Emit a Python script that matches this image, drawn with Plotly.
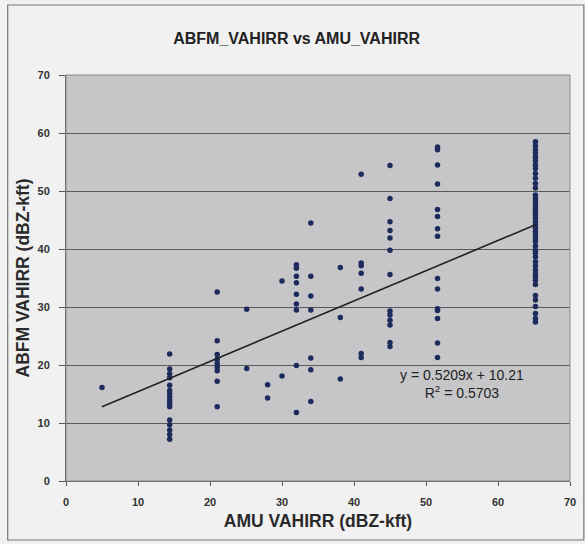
import plotly.graph_objects as go

# ---- data ----
col_x = [5.0, 14.4, 21.0, 25.1, 28.0, 30.0, 32.0, 34.0, 38.1, 41.0, 45.0, 51.6, 65.2]

col_05 = [16.1]
col_14 = [21.9, 19.3, 18.5, 17.8, 16.5, 15.6, 15.1, 14.5, 13.9, 13.4, 12.8, 10.5, 9.7, 8.8, 8.0, 7.2]
col_21 = [32.6, 24.2, 21.8, 21.0, 20.3, 19.6, 19.0, 17.2, 12.8]
col_25 = [29.6, 19.4]
col_28 = [16.6, 14.3]
col_30 = [34.5, 18.1]
col_32 = [37.3, 36.7, 35.3, 34.2, 32.2, 30.5, 29.5, 19.9, 11.8]
col_34 = [44.5, 35.3, 31.9, 29.5, 21.2, 19.2, 13.7]
col_38 = [36.8, 28.2, 17.6]
col_41 = [52.9, 37.6, 37.1, 35.8, 33.1, 22.0, 21.3]
col_45 = [54.4, 48.7, 44.7, 43.2, 41.9, 39.8, 35.6, 29.3, 28.6, 27.7, 26.9, 23.9, 23.2]
col_52 = [57.6, 57.1, 54.5, 51.2, 46.8, 45.6, 43.5, 42.2, 34.9, 33.1, 29.7, 29.4, 28.0, 23.8, 21.3]
col_65 = [58.5, 57.8, 57.1, 56.5, 55.8, 55.2, 54.5, 53.9, 53.0, 52.2, 51.3, 50.5, 49.3,
          48.7, 48.2, 47.6, 47.0, 46.5, 45.9, 45.3, 44.7, 44.2, 43.6, 43.0, 42.4, 41.8,
          41.3, 40.5, 39.8, 39.3, 38.6, 37.8, 37.1, 36.4, 35.7, 35.2, 34.6, 33.9, 32.0,
          31.2, 30.1, 28.9, 28.0, 27.4]

slope = 0.5209
intercept = 10.21
y_ticks = [0, 10, 20, 30, 40, 50, 60, 70]
x_ticks = [0, 10, 20, 30, 40, 50, 60, 70]

columns = [col_05, col_14, col_21, col_25, col_28, col_30, col_32, col_34,
           col_38, col_41, col_45, col_52, col_65]

xs, ys = [], []
for cx, vals in zip(col_x, columns):
    xs += [cx] * len(vals)
    ys += vals

FONT = "Liberation Sans, Arial, sans-serif"

fig = go.Figure()
fig.add_trace(go.Scatter(
    x=xs, y=ys, mode="markers",
    marker=dict(symbol="circle", size=5.5, color="#1c2b5c"),
    showlegend=False, hoverinfo="x+y",
))
tx = [min(xs), max(xs)]
fig.add_trace(go.Scatter(
    x=tx, y=[slope * v + intercept for v in tx], mode="lines",
    line=dict(color="#222222", width=1.6), showlegend=False,
))

fig.update_layout(
    width=585, height=544,
    margin=dict(l=66, r=9, t=75, b=63),
    paper_bgcolor="#f1f1f1",
    plot_bgcolor="#c6c6c9",
    font=dict(family=FONT, color="#333333"),
    title=dict(text="<b>ABFM_VAHIRR vs AMU_VAHIRR</b>", x=0.507, xanchor="center",
               y=0.93, yanchor="middle",
               font=dict(size=16, family=FONT, color="#222222")),
    xaxis=dict(range=[0, 70], tickvals=x_ticks, showgrid=False, zeroline=False,
               showline=True, linecolor="#555555", linewidth=1, mirror=False,
               ticks="outside", ticklen=4, tickcolor="#555555",
               ticklabelstandoff=7,
               tickfont=dict(size=11, family=FONT, color="#333333", weight="bold"),
               title=dict(text="<b>AMU VAHIRR (dBZ-kft)</b>", standoff=7,
                          font=dict(size=17.5, family=FONT, color="#2a2a2a"))),
    yaxis=dict(range=[0, 70], tickvals=y_ticks, showgrid=True, gridcolor="#5a5a5a",
               gridwidth=1, zeroline=False,
               showline=True, linecolor="#555555", linewidth=1,
               ticks="outside", ticklen=6, tickcolor="#555555",
               ticklabelstandoff=7,
               tickfont=dict(size=11, family=FONT, color="#333333", weight="bold"),
               title=dict(text="<b>ABFM VAHIRR (dBZ-kft)</b>", standoff=3,
                          font=dict(size=17.5, family=FONT, color="#2a2a2a"))),
    annotations=[
        dict(text="y = 0.5209x + 10.21<br>R<sup>2</sup> = 0.5703", x=0.785, y=0.24,
             xref="paper", yref="paper", showarrow=False, align="center",
             xanchor="center", yanchor="middle",
             font=dict(size=14, family=FONT, color="#222222")),
    ],
    shapes=[
        dict(type="rect", xref="paper", yref="paper", x0=0, x1=1, y0=0, y1=1,
             line=dict(color="#8a8a8a", width=1), layer="above"),
        dict(type="rect", xref="paper", yref="paper",
             x0=-59 / 510, x1=1 + 14 / 510, y0=-59 / 406, y1=1 + 70 / 406,
             line=dict(color="#777777", width=1.2), layer="below"),
    ],
)

fig.write_html("out.html")
